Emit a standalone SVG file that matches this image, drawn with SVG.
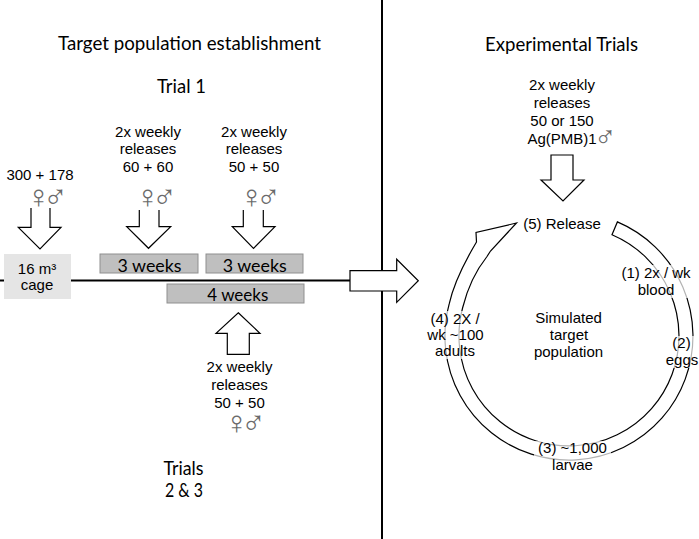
<svg xmlns="http://www.w3.org/2000/svg" width="699" height="539" viewBox="0 0 699 539">
<style>
.t{font-family:"Liberation Sans",Arial,sans-serif;font-size:15px;fill:#000;text-anchor:middle}
.c{font-family:Lato,"Open Sans",sans-serif;fill:#000;text-anchor:middle}
.g{font-family:"Liberation Sans",Arial,sans-serif;font-size:33px;fill:#6a6a6a;text-anchor:middle;letter-spacing:-8px}
.arr{fill:#fff;stroke:#000;stroke-width:1.2;stroke-linejoin:miter}
.box{fill:#bfbfbf;stroke:#8f8f8f;stroke-width:1}
.bg{fill:#fff;fill-opacity:0.7}
</style>
<rect width="699" height="539" fill="#fff"/>
<g id="connectors">
<line x1="382" y1="0" x2="382" y2="539" stroke="#000" stroke-width="2"/>
<line x1="0" y1="280.5" x2="352" y2="280.5" stroke="#000" stroke-width="2"/>
<path class="arr" d="M31,208 L31,227.3 L18.3,227.3 L40,249 L61,227.3 L50,227.3 L50,208"/>
<path class="arr" d="M139.3,210 L139.3,226.7 L126.7,226.7 L148.5,248.3 L170.7,226.7 L159,226.7 L159,210"/>
<path class="arr" d="M243.3,210 L243.3,226.7 L232.3,226.7 L253.5,248.3 L275,226.7 L263.3,226.7 L263.3,210"/>
<path class="arr" d="M238.3,312.7 L260,333.3 L249.3,333.3 L249.3,354.3 L227.3,354.3 L227.3,333.3 L216,333.3 Z"/>
<path class="arr" d="M350,270.7 L396.7,270.7 L396.7,259.3 L418.3,280.7 L396.7,302.3 L396.7,291 L350,291 Z"/>
<path class="arr" d="M551,155 L573,155 L573,180 L584,180 L563,201 L541,180 L551,180 Z"/>
<path class="arr" d="M617.4,221.9 A124,124 0 1 1 449.2,303.9 Q455,278 476.5,242 L476,232.5 L516.5,223 L490.5,251 L487,256.5 Q470,278 462.7,307.5 A110,110 0 1 0 612,234.7 Z"/>
</g>
<g id="title-left"><text class="c" x="189.5" y="50" font-size="19" textLength="263" lengthAdjust="spacingAndGlyphs">Target population establishment</text></g>
<g id="trial1"><text class="c" x="181.5" y="93" font-size="19" textLength="49" lengthAdjust="spacingAndGlyphs">Trial 1</text></g>
<g id="title-right"><text class="c" x="561.5" y="51" font-size="19" textLength="153" lengthAdjust="spacingAndGlyphs">Experimental Trials</text></g>
<g id="trials23">
<text class="c" x="183.5" y="475" font-size="19" textLength="40" lengthAdjust="spacingAndGlyphs">Trials</text>
<text class="c" x="184" y="497" font-size="19" textLength="38" lengthAdjust="spacingAndGlyphs">2 &amp; 3</text>
</g>
<g id="cage">
<rect x="4" y="254" width="67" height="45" fill="#e5e5e5"/>
<text class="t" x="37" y="273.5">16 m³</text>
<text class="t" x="37" y="290">cage</text>
</g>
<g id="release0">
<text class="t" x="40" y="179.5">300 + 178</text>
<text class="g" x="43" y="208">♀♂</text>
</g>
<g id="release1">
<text class="t" x="148" y="136.5">2x weekly</text>
<text class="t" x="148" y="154">releases</text>
<text class="t" x="148" y="171.5">60 + 60</text>
<text class="g" x="152" y="208">♀♂</text>
</g>
<g id="release2">
<text class="t" x="254" y="136.5">2x weekly</text>
<text class="t" x="254" y="154">releases</text>
<text class="t" x="254" y="171.5">50 + 50</text>
<text class="g" x="256" y="208">♀♂</text>
</g>
<g id="weeks1">
<rect class="box" x="100" y="254" width="98" height="19"/>
<text class="c" x="149.5" y="271.5" font-size="17" textLength="64" lengthAdjust="spacingAndGlyphs">3 weeks</text>
</g>
<g id="weeks2">
<rect class="box" x="206" y="254" width="97" height="19"/>
<text class="c" x="254.7" y="271.5" font-size="17" textLength="64" lengthAdjust="spacingAndGlyphs">3 weeks</text>
</g>
<g id="weeks3">
<rect class="box" x="167" y="284" width="137" height="19"/>
<text class="c" x="237.8" y="300.5" font-size="17" textLength="61" lengthAdjust="spacingAndGlyphs">4 weeks</text>
</g>
<g id="release3">
<text class="t" x="239.5" y="371.5">2x weekly</text>
<text class="t" x="239.5" y="389.5">releases</text>
<text class="t" x="239.5" y="407.5">50 + 50</text>
<text class="g" x="241" y="434">♀♂</text>
</g>
<g id="release-exp">
<text class="t" x="562" y="89.5">2x weekly</text>
<text class="t" x="562" y="107.5">releases</text>
<text class="t" x="562" y="125.5">50 or 150</text>
<text class="t" x="562" y="143.5">Ag(PMB)1</text>
<text x="594" y="147" font-family="Liberation Sans,Arial,sans-serif" font-size="30" fill="#6a6a6a">♂</text>
</g>
<g id="step5"><text class="t" x="562" y="228.5">(5) Release</text></g>
<g id="center"><text class="t" x="568.5" y="323">Simulated</text><text class="t" x="569" y="340">target</text><text class="t" x="568.5" y="357">population</text></g>
<g id="step1"><rect class="bg" x="619" y="265" width="76" height="33"/><text class="t" x="656" y="278">(1) 2x / wk</text><text class="t" x="656" y="295">blood</text></g>
<g id="step2"><rect class="bg" x="664" y="336" width="35" height="32"/><text class="t" x="681.5" y="348">(2)</text><text class="t" x="682" y="364.5">eggs</text></g>
<g id="step3"><rect class="bg" x="534" y="441" width="77" height="33"/><text class="t" x="572.5" y="452.5">(3) ~1,000</text><text class="t" x="572.5" y="470">larvae</text></g>
<g id="step4"><rect class="bg" x="425" y="311" width="62" height="48"/><text class="t" x="455" y="324">(4) 2X /</text><text class="t" x="455.5" y="340">wk ~100</text><text class="t" x="455" y="356">adults</text></g>
</svg>
